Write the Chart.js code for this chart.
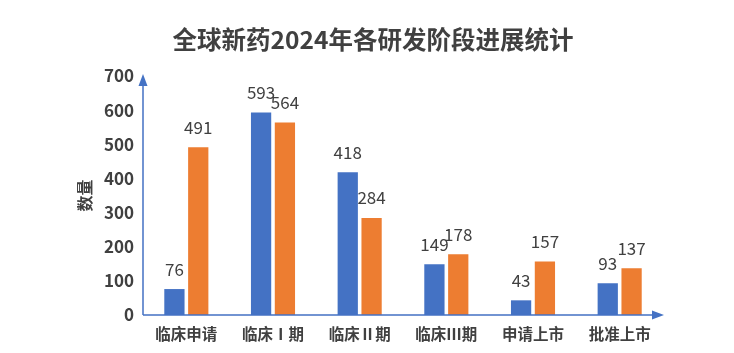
<!DOCTYPE html>
<html>
<head>
<meta charset="utf-8">
<script src="https://cdn.jsdelivr.net/npm/chart.js@4"></script>
<style>
  html, body { margin: 0; padding: 0; background: #fff; }
  #wrap { width: 734px; height: 353px; }
</style>
</head>
<body>
<div id="wrap"><canvas id="chart" width="734" height="353"></canvas></div>
<script>
const chartTitle = "全球新药2024年各研发阶段进展统计";
const categories = ["临床申请", "临床Ⅰ期", "临床Ⅱ期", "临床Ⅲ期", "申请上市", "批准上市"];
const seriesA = [76, 593, 418, 149, 43, 93];
const seriesB = [491, 564, 284, 178, 157, 137];
const yTicks = [0, 100, 200, 300, 400, 500, 600, 700];

const axisBlue = "#4472C4";
const cjk = "'Noto Sans CJK SC', sans-serif";

// title drawn by hand so it can sit centred on the page, not the plot
const pageTitle = {
  id: "pageTitle",
  afterDraw(chart) {
    const ctx = chart.ctx;
    ctx.save();
    ctx.font = "bold 24.5px " + cjk;
    ctx.fillStyle = "#404040";
    ctx.textAlign = "center";
    ctx.textBaseline = "middle";
    ctx.fillText(chartTitle, 373, 40);
    ctx.restore();
  },
};

// value labels above each bar
const valueLabels = {
  id: "valueLabels",
  afterDatasetsDraw(chart) {
    const ctx = chart.ctx;
    ctx.save();
    ctx.font = "17px " + cjk;
    ctx.fillStyle = "#404040";
    ctx.textAlign = "center";
    ctx.textBaseline = "middle";
    chart.data.datasets.forEach((ds, i) => {
      chart.getDatasetMeta(i).data.forEach((bar, j) => {
        ctx.fillText(ds.data[j], bar.x, bar.y - 20);
      });
    });
    ctx.restore();
  },
};

// axis lines with arrow heads
const axisArrows = {
  id: "axisArrows",
  afterDraw(chart) {
    const { ctx, chartArea } = chart;
    const x0 = chartArea.left;
    const y0 = chartArea.bottom;
    ctx.save();
    ctx.strokeStyle = axisBlue;
    ctx.fillStyle = axisBlue;
    ctx.lineWidth = 1.5;
    ctx.beginPath();
    ctx.moveTo(x0, y0);
    ctx.lineTo(x0, chartArea.top + 6);
    ctx.moveTo(x0, y0);
    ctx.lineTo(chartArea.right - 6, y0);
    ctx.stroke();
    ctx.beginPath();
    ctx.moveTo(x0, chartArea.top - 2);
    ctx.lineTo(x0 - 4.5, chartArea.top + 10);
    ctx.lineTo(x0 + 4.5, chartArea.top + 10);
    ctx.closePath();
    ctx.fill();
    ctx.beginPath();
    ctx.moveTo(chartArea.right + 1, y0);
    ctx.lineTo(chartArea.right - 11, y0 - 4.5);
    ctx.lineTo(chartArea.right - 11, y0 + 4.5);
    ctx.closePath();
    ctx.fill();
    ctx.restore();
  },
};

new Chart(document.getElementById("chart").getContext("2d"), {
  type: "bar",
  data: {
    labels: categories,
    datasets: [
      { label: "A", data: seriesA, backgroundColor: "#4472C4" },
      { label: "B", data: seriesB, backgroundColor: "#ED7D31" },
    ],
  },
  options: {
    responsive: false,
    animation: false,
    layout: { padding: { left: 0, right: 71, top: 76, bottom: 0 } },
    barPercentage: 0.85,
    categoryPercentage: 0.55,
    plugins: {
      legend: { display: false },
      tooltip: { enabled: false },
      title: { display: false },
    },
    scales: {
      x: {
        grid: { display: false, drawTicks: false },
        border: { display: false },
        ticks: {
          color: "#404040",
          padding: 10,
          font: { size: 15.5, weight: "bold", family: cjk },
        },
        afterFit(scale) { scale.height = 38; },
      },
      y: {
        min: 0,
        max: 700,
        afterBuildTicks(scale) { scale.ticks = yTicks.map((v) => ({ value: v })); },
        grid: { display: false, drawTicks: false },
        border: { display: false },
        ticks: {
          color: "#404040",
          padding: 9,
          font: { size: 17, weight: "bold", family: cjk },
        },
        title: {
          display: true,
          text: "数量",
          color: "#404040",
          font: { size: 16, weight: "bold", family: cjk },
          padding: { top: 75, bottom: 0 },
        },
        afterFit(scale) { scale.width = 143; },
      },
    },
  },
  plugins: [valueLabels, axisArrows, pageTitle],
});
</script>
</body>
</html>
